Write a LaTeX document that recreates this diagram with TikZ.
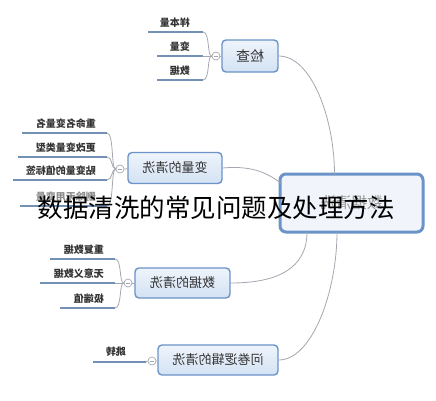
\documentclass[tikz,border=0pt]{standalone}
\usepackage{fontspec}
\newfontfamily\cjk{Noto Sans CJK SC}
\definecolor{nodeborder}{HTML}{6B93C8}
\definecolor{nodefillT}{HTML}{EEF4FB}
\definecolor{nodefillB}{HTML}{D3E2F3}
\definecolor{rootfill}{HTML}{F1F5FB}
\definecolor{leafline}{HTML}{7390B5}
\definecolor{conn}{HTML}{A3A8B0}
\definecolor{txt}{HTML}{333333}
\tikzset{
  branch/.style={draw=nodeborder, line width=1.4pt, rounded corners=4pt,
    top color=nodefillT, bottom color=nodefillB, inner sep=0pt,
    font=\cjk\fontsize{13}{15}\selectfont, text=txt},
  rootbox/.style={draw=nodeborder, line width=3pt, rounded corners=6pt,
    fill=rootfill, inner sep=0pt, font=\cjk\fontsize{15.5}{18}\selectfont, text=black!40},
  toggle/.style={circle, draw=conn, fill=white, minimum size=8pt, inner sep=0pt, line width=0.7pt,
    path picture={\draw[conn, line width=0.6pt] ([xshift=-2pt]path picture bounding box.center) -- ([xshift=2pt]path picture bounding box.center);}},
  leafbar/.style={draw=leafline, line width=2.8pt},
  leaftext/.style={anchor=base east, inner sep=0pt, font=\cjk\bfseries\fontsize{10}{12}\selectfont, text=txt},
  conn/.style={draw=conn, line width=0.8pt},
  titletext/.style={font=\cjk\fontsize{25.5}{28}\selectfont, text=black, inner sep=0pt}
}
\begin{document}
\begin{tikzpicture}[x=1pt,y=-1pt]
\useasboundingbox[fill=white] (0,0) rectangle (436,400);

% root
\node[rootbox, minimum width=143pt, minimum height=58pt] (R) at (351.5,203) {\reflectbox{数据清洗}};

% branches
\node[branch, minimum width=56pt, minimum height=32pt, font=\cjk\fontsize{14}{16}\selectfont] (n1) at (250,56) {\reflectbox{检查}};
\node[branch, minimum width=94pt, minimum height=31pt] (n2) at (175,168) {\reflectbox{变量的清洗}};
\node[branch, minimum width=95pt, minimum height=30pt] (n3) at (182.5,283) {\reflectbox{数据的清洗}};
\node[branch, minimum width=120pt, minimum height=30pt] (n4) at (218,360) {\reflectbox{问卷逻辑的清洗}};

% root connectors
\coordinate (r1) at (334.5,174);
\coordinate (r2) at (282,184);
\coordinate (r3) at (307,232);
\coordinate (r4) at (337,232);
\draw[conn] (n1.east) .. controls (312,56) and (334.5,120) .. (r1);
\draw[conn] (n2.east) .. controls (255,165) and (270,175) .. (r2);
\draw[conn] (n3.east) .. controls (278,283) and (307,268) .. (r3);
\draw[conn] (n4.east) .. controls (312,360) and (337,292) .. (r4);

% toggles
\node[toggle] (t1) at (216,56) {};
\node[toggle] (t2) at (120,169) {};
\node[toggle] (t3) at (128,283) {};
\node[toggle] (t4) at (152,361) {};
\draw[conn] (t1) -- (n1);
\draw[conn] (t2) -- (n2);
\draw[conn] (t3) -- (n3);
\draw[conn] (t4) -- (n4);

% leaves of 检查
\coordinate (a1s) at (148,32); \coordinate (a1e) at (203,32);
\coordinate (a2s) at (157,56); \coordinate (a2e) at (203,56);
\coordinate (a3s) at (157,80); \coordinate (a3e) at (203,80);
\draw[leafbar] (a1s) -- (a1e);
\draw[leafbar] (a2s) -- (a2e);
\draw[leafbar] (a3s) -- (a3e);
\node[leaftext] (a1) at (190,26) {\reflectbox{样本量}};
\node[leaftext] (a2) at (190,50) {\reflectbox{变量}};
\node[leaftext] (a3) at (190,74) {\reflectbox{数据}};
\draw[conn] (a1e) .. controls (210,32) and (207,56) .. (t1.west);
\draw[conn] (a2e) -- (t1.west);
\draw[conn] (a3e) .. controls (210,80) and (207,56) .. (t1.west);

% leaves of 变量的清洗
\coordinate (b1s) at (22,133); \coordinate (b1e) at (107,133);
\coordinate (b2s) at (18,157); \coordinate (b2e) at (107,157);
\coordinate (b3s) at (13,180); \coordinate (b3e) at (107,180);
\coordinate (b4s) at (20,206); \coordinate (b4e) at (107,206);
\draw[leafbar] (b1s) -- (b1e);
\draw[leafbar] (b2s) -- (b2e);
\draw[leafbar] (b3s) -- (b3e);
\draw[leafbar] (b4s) -- (b4e);
\node[leaftext] (b1) at (96,127) {\reflectbox{重命名变量名}};
\node[leaftext] (b2) at (96,151) {\reflectbox{更改变量类型}};
\node[leaftext] (b3) at (96,174) {\reflectbox{贴变量的值标签}};
\node[leaftext, text=black!45] (b4) at (96,200) {\reflectbox{删除无用变量}};
\draw[conn] (b1e) .. controls (114,133) and (111,169) .. (t2.west);
\draw[conn] (b2e) .. controls (113,157) and (111,169) .. (t2.west);
\draw[conn] (b3e) .. controls (113,180) and (111,169) .. (t2.west);
\draw[conn] (b4e) .. controls (114,206) and (111,169) .. (t2.west);

% leaves of 数据的清洗
\coordinate (c1s) at (50,259); \coordinate (c1e) at (115,259);
\coordinate (c2s) at (40,283); \coordinate (c2e) at (115,283);
\coordinate (c3s) at (60,308); \coordinate (c3e) at (115,308);
\draw[leafbar] (c1s) -- (c1e);
\draw[leafbar] (c2s) -- (c2e);
\draw[leafbar] (c3s) -- (c3e);
\node[leaftext] (c1) at (104,253) {\reflectbox{重复数据}};
\node[leaftext] (c2) at (104,277) {\reflectbox{无意义数据}};
\node[leaftext] (c3) at (104,302) {\reflectbox{极端值}};
\draw[conn] (c1e) .. controls (122,259) and (119,283) .. (t3.west);
\draw[conn] (c2e) -- (t3.west);
\draw[conn] (c3e) .. controls (122,308) and (119,283) .. (t3.west);

% leaf of 问卷逻辑的清洗
\coordinate (d1s) at (93,362); \coordinate (d1e) at (146,362);
\draw[leafbar] (d1s) -- (d1e);
\node[leaftext] (d1) at (126,355.5) {\reflectbox{跳转}};
\draw[conn] (d1e) -- (t4.west);

% title overlay
\node[titletext] (title) at (216,208) {数据清洗的常见问题及处理方法};
\end{tikzpicture}
\end{document}
